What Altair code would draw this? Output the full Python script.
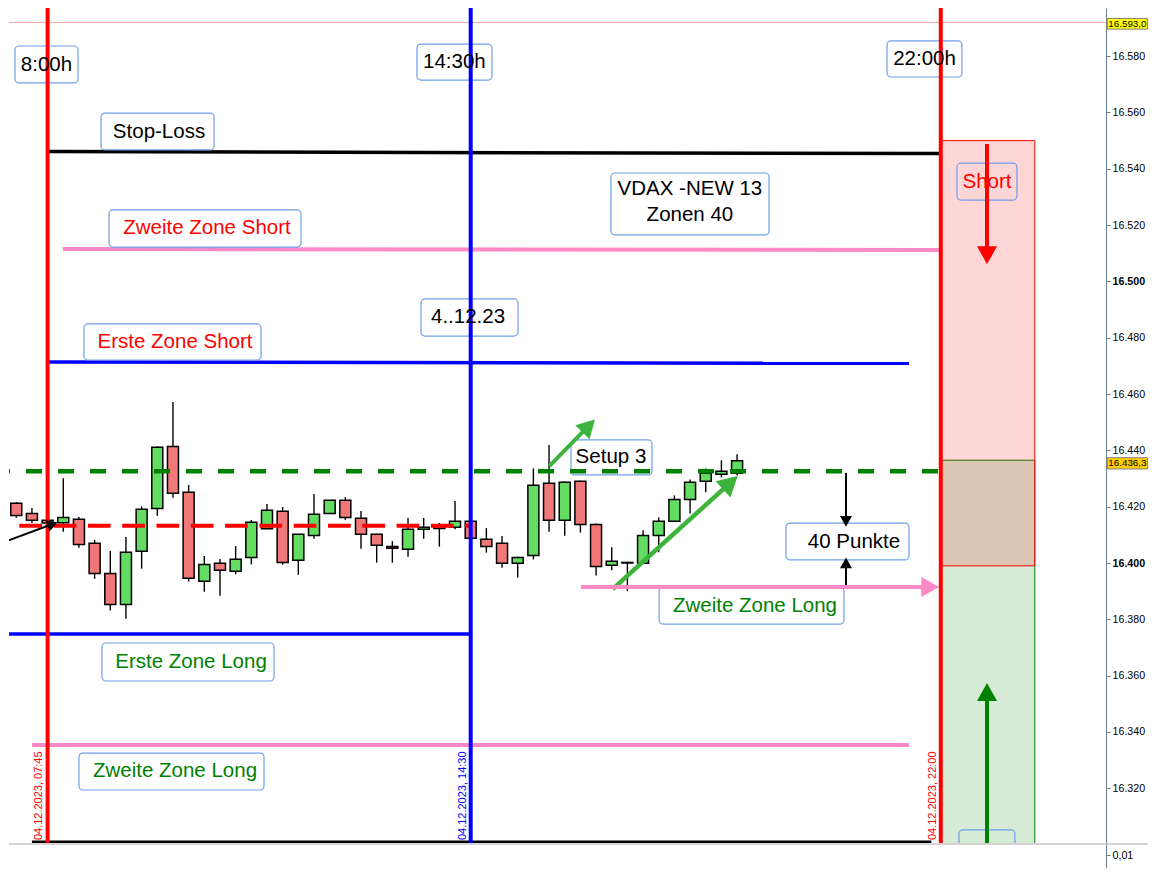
import math
import altair as alt
import pandas as pd

# ---------------- data (15-minute candles, index 0 = 07:00) ----------------
idx = list(range(48))
opens = [16416.9, 16421.2, 16417.6, 16415.2, 16414.3, 16415.5, 16407.0, 16396.3, 16385.3, 16404.2,
         16419.4, 16441.4, 16425.1, 16393.5, 16399.9, 16397.1, 16402.0, 16412.2, 16418.4, 16401.0,
         16409.8, 16417.6, 16422.3, 16415.9, 16410.2, 16405.9, 16404.9, 16412.0, 16413.5, 16412.7,
         16414.8, 16408.4, 16407.0, 16399.9, 16402.7, 16428.3, 16415.2, 16429.0, 16413.7, 16399.2,
         16400.0, 16399.9, 16409.8, 16414.8, 16422.6, 16429.0, 16431.5, 16431.9]
highs = [16421.3, 16421.7, 16419.5, 16415.6, 16430.1, 16416.3, 16408.2, 16404.3, 16409.2, 16420.1,
         16441.5, 16457.2, 16427.7, 16402.5, 16401.4, 16406.0, 16415.3, 16421.0, 16419.9, 16410.2,
         16424.5, 16422.3, 16423.4, 16418.5, 16410.4, 16407.8, 16416.0, 16416.0, 16414.2, 16422.0,
         16415.0, 16412.4, 16409.6, 16402.2, 16433.6, 16441.9, 16429.0, 16429.3, 16414.0, 16405.6,
         16400.3, 16411.6, 16416.2, 16424.0, 16429.7, 16433.6, 16436.5, 16438.6]
lows = [16416.3, 16416.1, 16414.2, 16413.9, 16411.1, 16405.4, 16394.4, 16383.1, 16380.2, 16398.0,
        16416.8, 16423.2, 16393.4, 16389.8, 16388.4, 16396.0, 16399.5, 16412.1, 16399.4, 16395.8,
        16408.6, 16417.4, 16415.3, 16405.1, 16400.1, 16400.1, 16402.2, 16408.6, 16405.8, 16412.0,
        16408.6, 16403.7, 16398.3, 16394.8, 16401.3, 16411.1, 16409.7, 16410.8, 16395.6, 16397.4,
        16390.0, 16399.7, 16403.8, 16414.6, 16417.6, 16425.1, 16430.4, 16431.1]
closes = [16420.5, 16416.9, 16415.2, 16414.2, 16416.2, 16406.6, 16396.3, 16385.3, 16403.8, 16419.1,
          16441.1, 16424.8, 16394.6, 16399.5, 16397.4, 16401.3, 16414.5, 16418.7, 16400.2, 16410.2,
          16417.3, 16422.3, 16416.2, 16410.2, 16406.3, 16405.2, 16412.0, 16412.7, 16412.3, 16414.8,
          16408.8, 16405.9, 16399.9, 16402.0, 16427.6, 16415.2, 16428.7, 16413.7, 16398.8, 16400.6,
          16400.2, 16409.8, 16414.8, 16422.6, 16428.7, 16431.9, 16432.6, 16436.3]

price_ticks = [16320, 16340, 16360, 16380, 16400, 16420, 16440, 16460, 16480, 16500, 16520, 16540, 16560, 16580]
lower_ticks = [0.01, 0.005]

# key levels
stop_loss = [16546.1, 16545.4]
zone2_short = [16511.5, 16511.2]
zone1_short = [16471.4, 16470.9]
green_dash = 16432.6
red_dash = 16413.2
zone1_long = 16374.8
zone2_long_upper = 16391.5
zone2_long_lower = 16335.4
top_line = 16592.0
short_zone = [16399.0, 16550.0]
long_zone = [16280.0, 16436.5]
session_marks = [3, 30, 60]          # 07:45, 14:30, 22:00
session_colors = ["#ff0000", "#0000ff", "#ff0000"]
session_texts = ["04.12.2023, 07:45", "04.12.2023, 14:30", "04.12.2023, 22:00"]
session_text_x = [2.48, 29.49, 59.48]

# ---------------- scales ----------------
W, H = 1097, 835
X0, X1 = 0.536, 70.543
Y0, Y1 = 16300.57, 16597.1
PX = W / (X1 - X0)
PY = H / (Y1 - Y0)
XS = alt.Scale(domain=[X0, X1], nice=False, zero=False)
YS = alt.Scale(domain=[Y0, Y1], nice=False, zero=False)
FONT = "Liberation Sans"
XR = 73.2   # right end of axis area (stay inside the page)

AX = alt.Axis(orient="right", values=price_ticks, title=None, grid=False,
              labelExpr="replace(format(datum.value, ',d'), ',', '.')",
              labelFontWeight={"condition": {"test": "datum.value % 100 === 0", "value": "bold"}, "value": "normal"},
              domainColor="#6b7b8c", tickColor="#6b7b8c", tickSize=4, labelPadding=2,
              labelFontSize=10.7, labelColor="black", labelFont=FONT)


def X(f="x"):
    return alt.X(f"{f}:Q", scale=XS, axis=None)


def Y(f="y"):
    return alt.Y(f"{f}:Q", scale=YS, axis=AX)


def df1(**kw):
    return pd.DataFrame({k: [v] for k, v in kw.items()})


def seg(x, x2, y, y2, color, w, dash=None, offset=0.0, clip=True):
    kw = dict(color=color, strokeWidth=w, clip=clip)
    if dash:
        kw.update(strokeDash=dash, strokeDashOffset=offset)
    return alt.Chart(df1(x=x, x2=x2, y=y, y2=y2)).mark_rule(**kw).encode(
        x=X(), x2=alt.X2("x2:Q"), y=Y(), y2=alt.Y2("y2:Q"))


HEAD = "M0,0L-1,1.8L1,1.8Z"


def arrow(tx, ty, hx, hy, color, w, hw, clip=True):
    dx = (hx - tx) * PX
    dy = -(hy - ty) * PY
    L = math.hypot(dx, dy)
    ux, uy = dx / L, dy / L
    d = 0.7 * 1.8 * hw
    ex = hx - ux * d / PX
    ey = hy + uy * d / PY
    ang = math.degrees(math.atan2(ux, -uy)) % 360
    shaft = seg(tx, ex, ty, ey, color, w, clip=clip)
    head = alt.Chart(df1(x=hx, y=hy)).mark_point(
        shape=HEAD, size=4 * hw * hw, angle=ang, filled=True, color=color,
        opacity=1, strokeWidth=0, clip=clip).encode(x=X(), y=Y())
    return [shaft, head]


layers = []

# zones at the right
zones = pd.DataFrame({
    "x": [60, 60], "x2": [66, 66],
    "y": [long_zone[0], short_zone[0]], "y2": [long_zone[1], short_zone[1]],
    "fill": ["#008000", "#ff0000"], "stroke": ["#008000", "#ff0000"],
})
layers.append(alt.Chart(zones).mark_rect(fillOpacity=0.16, strokeWidth=1, clip=True).encode(
    x=X(), x2=alt.X2("x2:Q"), y=Y(), y2=alt.Y2("y2:Q"),
    fill=alt.Fill("fill:N", scale=None), stroke=alt.Stroke("stroke:N", scale=None)))

# thin top line
layers.append(seg(0, X1, top_line, top_line, "#f2a0a0", 1))

# horizontal level lines
layers.append(seg(3.05, 60, stop_loss[0], stop_loss[1], "black", 3.5))
layers.append(seg(3.98, 59.95, zone2_short[0], zone2_short[1], "#ff88c6", 4))
layers.append(seg(3.02, 57.97, zone1_short[0], zone1_short[1], "#0000ff", 3.5))
layers.append(seg(0, 30, zone1_long, zone1_long, "#0000ff", 3.5))
layers.append(seg(2.0, 57.97, zone2_long_lower, zone2_long_lower, "#ff88c6", 4))
layers.append(seg(2.0, 59.4, 16300.9, 16300.9, "black", 3))

# label boxes
boxes = pd.DataFrame([
    ["8:00h", 0.92, 4.94, 16583.6, 16570.5, 2.93, 16577.0, "black"],
    ["14:30h", 26.57, 31.36, 16584.3, 16571.5, 28.96, 16577.9, "black"],
    ["22:00h", 56.57, 61.35, 16585.4, 16572.6, 58.96, 16579.0, "black"],
    ["Stop-Loss", 6.41, 13.62, 16559.8, 16546.7, 10.11, 16553.2, "black"],
    ["Zweite Zone Short", 6.92, 19.17, 16525.4, 16512.2, 13.17, 16518.8, "#ff0000"],
    ["VDAX -NEW 13\nZonen 40", 38.95, 49.04, 16538.5, 16516.5, 43.99, 16532.8, "black"],
    ["4..12.23", 26.83, 33.02, 16493.8, 16480.6, 29.83, 16487.2, "black"],
    ["Erste Zone Short", 5.32, 16.62, 16484.9, 16472.1, 11.13, 16478.5, "#ff0000"],
    ["Setup 3", 36.40, 41.57, 16443.7, 16431.3, 38.95, 16437.5, "black"],
    ["40 Punkte", 50.12, 57.97, 16414.2, 16401.1, 54.46, 16407.6, "black"],
    ["Zweite Zone Long", 42.02, 53.82, 16391.5, 16378.3, 48.14, 16384.9, "#008000"],
    ["Erste Zone Long", 6.47, 17.45, 16371.6, 16358.1, 12.15, 16364.8, "#008000"],
    ["Zweite Zone Long", 5.0, 16.81, 16332.5, 16319.4, 11.13, 16326.0, "#008000"],
    ["Short", 61.03, 64.86, 16542.0, 16528.9, 62.95, 16535.4, "#ff0000"],
    ["", 61.16, 64.73, 16305.2, 16290.0, 62.95, 16300.0, "black"],
], columns=["text", "x", "x2", "y", "y2", "tx", "ty", "c"])
layers.append(alt.Chart(boxes).mark_rect(fill="white", fillOpacity=0, stroke="#6d9eeb", strokeWidth=1.2,
                                         cornerRadius=4, clip=True).encode(
    x=X(), x2=alt.X2("x2:Q"), y=Y(), y2=alt.Y2("y2:Q")))

# candles
cdf = pd.DataFrame({"k": idx, "o": opens, "h": highs, "l": lows, "c": closes})
cdf["x"] = cdf["k"] - 0.351
cdf["x2"] = cdf["k"] + 0.351
cdf["fill"] = ["#62dd62" if c >= o else "#f07878" for o, c in zip(opens, closes)]
layers.append(alt.Chart(cdf).mark_rule(color="black", strokeWidth=1.4, clip=True).encode(
    x=X("k"), y=Y("l"), y2=alt.Y2("h:Q")))
layers.append(alt.Chart(cdf).mark_rect(stroke="black", strokeWidth=1.5, clip=True).encode(
    x=X(), x2=alt.X2("x2:Q"), y=Y("o"), y2=alt.Y2("c:Q"), fill=alt.Fill("fill:N", scale=None)))

# dashed lines (over candles)
layers.append(seg(0, 60, green_dash, green_dash, "#008000", 4.5, dash=[16, 16], offset=6.6))
layers.append(seg(0, 30, red_dash, red_dash, "#ff0000", 4, dash=[22.7, 11.6], offset=15.6))

# session vertical lines
for xv, col in zip(session_marks, session_colors):
    layers.append(seg(xv, xv, Y0 - 5, Y1 + 5, col, 4))

# arrows
layers += arrow(0.0, 16407.0, 3.64, 16414.5, "black", 2, 6)
layers += arrow(35.02, 16434.4, 37.93, 16451.0, "#3cb43c", 4, 10)
layers += arrow(39.06, 16390.7, 47.04, 16430.9, "#3cb43c", 4.5, 11)
layers += arrow(53.95, 16432.0, 53.95, 16412.9, "black", 2, 6)
layers += arrow(53.95, 16392.2, 53.95, 16402.0, "black", 2, 6)
layers += arrow(37.04, zone2_long_upper, 59.9, zone2_long_upper, "#ff88c6", 4, 10)
layers += arrow(62.95, 16548.8, 62.95, 16506.1, "#ff0000", 4, 10)
layers += arrow(62.95, 16290.0, 62.95, 16357.4, "#008000", 4, 10)

# box texts
layers.append(alt.Chart(boxes[boxes["text"] != ""]).mark_text(
    font=FONT, fontSize=20.5, baseline="middle", align="center", lineBreak="\n", lineHeight=26).encode(
    x=X("tx"), y=Y("ty"), text="text:N", color=alt.Color("c:N", scale=None)))

# vertical date labels
dates = pd.DataFrame({"x": session_text_x, "y": [16301.6] * 3, "t": session_texts, "c": session_colors})
layers.append(alt.Chart(dates).mark_text(font=FONT, fontSize=11, angle=270, align="left", baseline="middle").encode(
    x=X(), y=Y(), text="t:N", color=alt.Color("c:N", scale=None)))

# price tags on the axis
tags = pd.DataFrame({"x": [70.62, 70.62], "x2": [XR, XR],
                     "y": [16589.6, 16433.4], "y2": [16593.4, 16437.4],
                     "ty": [16591.5, 16435.4], "t": ["16.593,0", "16.436,3"],
                     "fill": ["#ffff00", "#ffcc00"], "tx": [71.91, 71.91]})
layers.append(alt.Chart(tags).mark_rect(stroke="#7f7f7f", strokeWidth=1).encode(
    x=X(), x2=alt.X2("x2:Q"), y=Y(), y2=alt.Y2("y2:Q"), fill=alt.Fill("fill:N", scale=None)))
layers.append(alt.Chart(tags).mark_text(font=FONT, fontSize=9.8, color="black", baseline="middle").encode(
    x=X("tx"), y=Y("ty"), text="t:N"))

main = alt.layer(*layers).properties(width=W, height=H)

# lower indicator panel
LH = 24
LY = alt.Scale(domain=[0.01307 - LH * 0.005 / 18.4, 0.01307], nice=False, zero=False)
LAX = alt.Axis(orient="right", values=lower_ticks, title=None, grid=False,
               labelExpr="replace(toString(datum.value), '.', ',')",
               domainColor="#6b7b8c", tickColor="#6b7b8c", tickSize=4, labelPadding=2,
               labelFontSize=10.7, labelColor="black", labelFont=FONT)
lower = alt.Chart(df1(x=X0, x2=XR, y=0.01307)).mark_rule(color="#a8a8a8", strokeWidth=1).encode(
    x=alt.X("x:Q", scale=XS, axis=None), x2=alt.X2("x2:Q"),
    y=alt.Y("y:Q", scale=LY, axis=LAX)).properties(width=W, height=LH)

chart = alt.vconcat(main, lower, spacing=0).properties(padding=0).configure_view(stroke=None)

chart.save("out.html", embed_options={"renderer": "svg", "actions": False})
